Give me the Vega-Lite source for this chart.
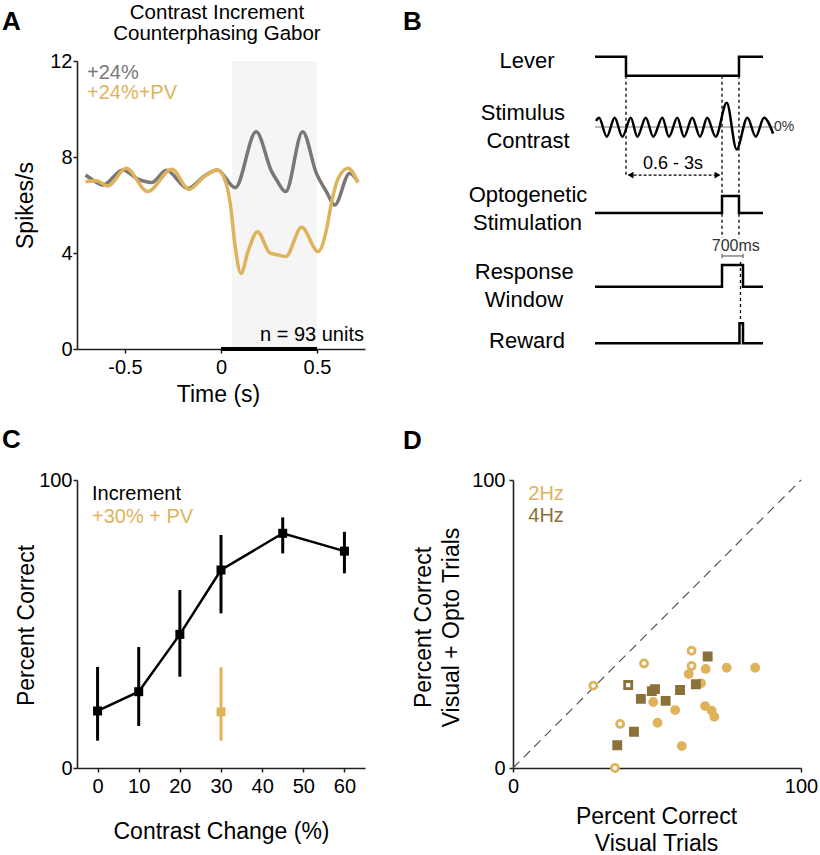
{
  "$schema": "https://vega.github.io/schema/vega-lite/v6.json",
  "background": "white",
  "padding": {"left": 2, "top": 3, "right": 0, "bottom": 0},
  "config": {
    "font": "Liberation Sans",
    "view": {"stroke": null},
    "axis": {"domainColor": "#231f20", "domainWidth": 1.6, "tickColor": "#231f20", "tickWidth": 1.5, "tickSize": 4, "labelFontSize": 20, "labelColor": "#000", "labelPadding": 4, "labelFlush": false, "titleFontSize": 23, "titleFontWeight": "normal", "titleColor": "#000", "titleBaseline": "middle", "grid": false}
  },
  "resolve": {"scale": {"color": "independent", "fill": "independent", "stroke": "independent", "shape": "independent"}},
  "datasets": {
    "a_lines": [
      {"cond": "+24%", "t": -0.705, "rate": 7.25},
      {"cond": "+24%", "t": -0.66, "rate": 7.0},
      {"cond": "+24%", "t": -0.615, "rate": 6.83},
      {"cond": "+24%", "t": -0.511, "rate": 7.46},
      {"cond": "+24%", "t": -0.435, "rate": 7.09},
      {"cond": "+24%", "t": -0.36, "rate": 6.94},
      {"cond": "+24%", "t": -0.285, "rate": 7.45},
      {"cond": "+24%", "t": -0.172, "rate": 6.69},
      {"cond": "+24%", "t": -0.085, "rate": 7.22},
      {"cond": "+24%", "t": -0.019, "rate": 7.46},
      {"cond": "+24%", "t": 0.074, "rate": 6.72},
      {"cond": "+24%", "t": 0.183, "rate": 9.05},
      {"cond": "+24%", "t": 0.264, "rate": 7.39},
      {"cond": "+24%", "t": 0.29, "rate": 7.04},
      {"cond": "+24%", "t": 0.337, "rate": 6.56},
      {"cond": "+24%", "t": 0.425, "rate": 9.05},
      {"cond": "+24%", "t": 0.497, "rate": 7.32},
      {"cond": "+24%", "t": 0.549, "rate": 6.56},
      {"cond": "+24%", "t": 0.592, "rate": 6.0},
      {"cond": "+24%", "t": 0.67, "rate": 7.32},
      {"cond": "+24%", "t": 0.713, "rate": 6.97},
      {"cond": "+24%+PV", "t": -0.705, "rate": 6.97},
      {"cond": "+24%+PV", "t": -0.649, "rate": 7.01},
      {"cond": "+24%+PV", "t": -0.589, "rate": 6.79},
      {"cond": "+24%+PV", "t": -0.494, "rate": 7.53},
      {"cond": "+24%+PV", "t": -0.382, "rate": 6.56},
      {"cond": "+24%+PV", "t": -0.256, "rate": 7.49},
      {"cond": "+24%+PV", "t": -0.166, "rate": 6.65},
      {"cond": "+24%+PV", "t": -0.088, "rate": 7.18},
      {"cond": "+24%+PV", "t": -0.019, "rate": 7.46},
      {"cond": "+24%+PV", "t": 0.014, "rate": 7.18},
      {"cond": "+24%+PV", "t": 0.048, "rate": 6.07},
      {"cond": "+24%+PV", "t": 0.074, "rate": 4.26},
      {"cond": "+24%+PV", "t": 0.104, "rate": 3.15},
      {"cond": "+24%+PV", "t": 0.143, "rate": 4.12},
      {"cond": "+24%+PV", "t": 0.19, "rate": 4.89},
      {"cond": "+24%+PV", "t": 0.256, "rate": 3.99},
      {"cond": "+24%+PV", "t": 0.299, "rate": 3.92},
      {"cond": "+24%+PV", "t": 0.337, "rate": 3.85},
      {"cond": "+24%+PV", "t": 0.42, "rate": 5.07},
      {"cond": "+24%+PV", "t": 0.506, "rate": 4.06},
      {"cond": "+24%+PV", "t": 0.549, "rate": 4.96},
      {"cond": "+24%+PV", "t": 0.575, "rate": 6.07},
      {"cond": "+24%+PV", "t": 0.61, "rate": 7.1},
      {"cond": "+24%+PV", "t": 0.662, "rate": 7.53},
      {"cond": "+24%+PV", "t": 0.713, "rate": 6.93}
    ],
    "b_traces": [
      {"trace": "Lever", "ord": 1, "x": 0, "y": 101.5},
      {"trace": "Lever", "ord": 2, "x": 18.45, "y": 101.5},
      {"trace": "Lever", "ord": 3, "x": 18.45, "y": 94.9},
      {"trace": "Lever", "ord": 4, "x": 85.7, "y": 94.9},
      {"trace": "Lever", "ord": 5, "x": 85.7, "y": 101.5},
      {"trace": "Lever", "ord": 6, "x": 100, "y": 101.5},
      {"trace": "Opto", "ord": 1, "x": 0, "y": 47.2},
      {"trace": "Opto", "ord": 2, "x": 75.6, "y": 47.2},
      {"trace": "Opto", "ord": 3, "x": 75.6, "y": 53.1},
      {"trace": "Opto", "ord": 4, "x": 85.7, "y": 53.1},
      {"trace": "Opto", "ord": 5, "x": 85.7, "y": 47.2},
      {"trace": "Opto", "ord": 6, "x": 100, "y": 47.2},
      {"trace": "Response", "ord": 1, "x": 0, "y": 21.6},
      {"trace": "Response", "ord": 2, "x": 75.6, "y": 21.6},
      {"trace": "Response", "ord": 3, "x": 75.6, "y": 29.2},
      {"trace": "Response", "ord": 4, "x": 88.1, "y": 29.2},
      {"trace": "Response", "ord": 5, "x": 88.1, "y": 21.6},
      {"trace": "Response", "ord": 6, "x": 100, "y": 21.6},
      {"trace": "Reward", "ord": 1, "x": 0, "y": 2.0},
      {"trace": "Reward", "ord": 2, "x": 86.0, "y": 2.0},
      {"trace": "Reward", "ord": 3, "x": 86.0, "y": 8.9},
      {"trace": "Reward", "ord": 4, "x": 88.1, "y": 8.9},
      {"trace": "Reward", "ord": 5, "x": 88.1, "y": 2.0},
      {"trace": "Reward", "ord": 6, "x": 100, "y": 2.0}
    ],
    "b_wave": [
      {"x": 0.6, "y": 79.2},
      {"x": 2.4, "y": 80.3},
      {"x": 7.0, "y": 73.7},
      {"x": 11.7, "y": 80.3},
      {"x": 16.3, "y": 73.7},
      {"x": 21.3, "y": 80.3},
      {"x": 25.2, "y": 73.7},
      {"x": 30.2, "y": 80.3},
      {"x": 34.7, "y": 73.7},
      {"x": 40.1, "y": 80.3},
      {"x": 44.0, "y": 73.7},
      {"x": 49.0, "y": 80.3},
      {"x": 53.0, "y": 73.7},
      {"x": 57.9, "y": 80.3},
      {"x": 62.5, "y": 73.7},
      {"x": 66.8, "y": 80.3},
      {"x": 71.8, "y": 73.7},
      {"x": 78.4, "y": 85.5},
      {"x": 84.3, "y": 69.3},
      {"x": 90.7, "y": 80.3},
      {"x": 95.7, "y": 73.7},
      {"x": 100.6, "y": 80.3},
      {"x": 106.0, "y": 74.8}
    ],
    "b_dotted": [
      {"x": 18.45, "y": 94.9, "y2": 60.4},
      {"x": 75.6, "y": 94.9, "y2": 38.5},
      {"x": 85.7, "y": 94.9, "y2": 38.5},
      {"x": 86.6, "y": 30.2, "y2": 9.0}
    ],
    "b_labels": [
      {"label": "Lever", "x": -40.5, "y": 97.5},
      {"label": "Stimulus", "x": -42.9, "y": 79.5},
      {"label": "Contrast", "x": -39.9, "y": 69.7},
      {"label": "Optogenetic", "x": -39.9, "y": 51.1},
      {"label": "Stimulation", "x": -40.2, "y": 41.3},
      {"label": "Response", "x": -42.1, "y": 24.2},
      {"label": "Window", "x": -42.3, "y": 14.7},
      {"label": "Reward", "x": -40.5, "y": 0.45}
    ],
    "c_data": [
      {"series": "Increment", "contrast": 0, "pc": 19.8, "lo": 9.5, "hi": 35.1},
      {"series": "Increment", "contrast": 10, "pc": 26.5, "lo": 14.6, "hi": 42.0},
      {"series": "Increment", "contrast": 20, "pc": 46.4, "lo": 31.7, "hi": 61.8},
      {"series": "Increment", "contrast": 30, "pc": 68.75, "lo": 53.7, "hi": 80.9},
      {"series": "Increment", "contrast": 45, "pc": 81.5, "lo": 74.5, "hi": 87.0},
      {"series": "Increment", "contrast": 60, "pc": 75.3, "lo": 67.6, "hi": 82.0},
      {"series": "+30% + PV", "contrast": 30, "pc": 19.5, "lo": 9.5, "hi": 35.0}
    ],
    "d_points": [
      {"freq": "2Hz", "open": true, "visual": 27.9, "opto": 28.6},
      {"freq": "2Hz", "open": true, "visual": 45.5, "opto": 36.3},
      {"freq": "2Hz", "open": true, "visual": 62.0, "opto": 40.7},
      {"freq": "2Hz", "open": true, "visual": 62.0, "opto": 35.4},
      {"freq": "2Hz", "open": true, "visual": 37.2, "opto": 15.3},
      {"freq": "2Hz", "open": true, "visual": 35.4, "opto": 0.0},
      {"freq": "2Hz", "open": false, "visual": 66.9, "opto": 34.4},
      {"freq": "2Hz", "open": false, "visual": 74.2, "opto": 34.8},
      {"freq": "2Hz", "open": false, "visual": 84.1, "opto": 34.8},
      {"freq": "2Hz", "open": false, "visual": 61.0, "opto": 32.6},
      {"freq": "2Hz", "open": false, "visual": 65.3, "opto": 29.4},
      {"freq": "2Hz", "open": false, "visual": 48.7, "opto": 22.9},
      {"freq": "2Hz", "open": false, "visual": 56.3, "opto": 20.1},
      {"freq": "2Hz", "open": false, "visual": 66.7, "opto": 21.5},
      {"freq": "2Hz", "open": false, "visual": 69.0, "opto": 19.9},
      {"freq": "2Hz", "open": false, "visual": 69.9, "opto": 17.8},
      {"freq": "2Hz", "open": false, "visual": 50.2, "opto": 15.7},
      {"freq": "2Hz", "open": false, "visual": 58.6, "opto": 7.6},
      {"freq": "4Hz", "open": true, "visual": 40.0, "opto": 28.8},
      {"freq": "4Hz", "open": false, "visual": 67.6, "opto": 38.7},
      {"freq": "4Hz", "open": false, "visual": 63.5, "opto": 29.1},
      {"freq": "4Hz", "open": false, "visual": 58.0, "opto": 27.1},
      {"freq": "4Hz", "open": false, "visual": 49.3, "opto": 27.4},
      {"freq": "4Hz", "open": false, "visual": 48.2, "opto": 26.7},
      {"freq": "4Hz", "open": false, "visual": 44.4, "opto": 24.0},
      {"freq": "4Hz", "open": false, "visual": 53.0, "opto": 23.3},
      {"freq": "4Hz", "open": false, "visual": 42.0, "opto": 12.6},
      {"freq": "4Hz", "open": false, "visual": 36.2, "opto": 7.9}
    ]
  },
  "columns": 2,
  "spacing": {"row": 131, "column": 148},
  "bounds": "flush",
  "align": "all",
  "concat": [
    {
      "width": 288, "height": 288,
      "layer": [
        {"data": {"values": [{}]}, "mark": {"type": "rect", "color": "#f5f5f5"},
         "encoding": {"x": {"datum": 0.057, "type": "quantitative"}, "x2": {"datum": 0.5}, "y": {"datum": 0, "type": "quantitative"}, "y2": {"datum": 12}}},
        {"data": {"name": "a_lines"}, "mark": {"type": "line", "interpolate": "monotone", "strokeWidth": 3.5},
         "encoding": {
           "x": {"field": "t", "type": "quantitative", "scale": {"domain": [-0.75, 0.75], "nice": false, "zero": false},
                 "axis": {"values": [-0.5, 0, 0.5], "title": "Time (s)", "titleX": 141, "titleY": 45, "labelExpr": "toString(datum.value)"}},
           "y": {"field": "rate", "type": "quantitative", "scale": {"domain": [0, 12], "nice": false, "zero": false},
                 "axis": {"values": [0, 4, 8, 12], "title": "Spikes/s", "titleX": -52, "titleY": 144, "labelPadding": 1}},
           "color": {"field": "cond", "type": "nominal", "scale": {"domain": ["+24%", "+24%+PV"], "range": ["#7b7678", "#dfb35b"]}, "legend": null}
         }},
        {"data": {"values": [{}]}, "mark": {"type": "rule", "strokeWidth": 4, "color": "black"},
         "encoding": {"x": {"datum": 0, "type": "quantitative"}, "x2": {"datum": 0.5}, "y": {"datum": 0, "type": "quantitative"}}},
        {"data": {"values": [{}]}, "mark": {"type": "text", "text": ["Contrast Increment", "Counterphasing Gabor"], "fontSize": 20.5, "lineHeight": 21, "align": "center", "baseline": "alphabetic", "dy": -42},
         "encoding": {"x": {"datum": -0.021, "type": "quantitative"}, "y": {"datum": 12, "type": "quantitative"}}},
        {"data": {"values": [{}]}, "mark": {"type": "text", "text": "+24%", "fontSize": 20, "align": "left", "baseline": "alphabetic", "color": "#7b7678"},
         "encoding": {"x": {"datum": -0.698, "type": "quantitative"}, "y": {"datum": 11.25, "type": "quantitative"}}},
        {"data": {"values": [{}]}, "mark": {"type": "text", "text": "+24%+PV", "fontSize": 20, "align": "left", "baseline": "alphabetic", "color": "#dfb35b"},
         "encoding": {"x": {"datum": -0.698, "type": "quantitative"}, "y": {"datum": 10.42, "type": "quantitative"}}},
        {"data": {"values": [{}]}, "mark": {"type": "text", "text": "n = 93 units", "fontSize": 20, "align": "right", "baseline": "alphabetic", "dx": -1, "dy": -8},
         "encoding": {"x": {"datum": 0.75, "type": "quantitative"}, "y": {"datum": 0, "type": "quantitative"}}},
        {"data": {"values": [{}]}, "mark": {"type": "text", "text": "A", "fontSize": 26, "fontWeight": "bold", "align": "left", "baseline": "alphabetic", "dx": -75, "dy": -31},
         "encoding": {"x": {"datum": -0.75, "type": "quantitative"}, "y": {"datum": 12, "type": "quantitative"}}}
      ]
    },
    {
      "width": 288, "height": 288,
      "layer": [
        {"data": {"values": [{}]}, "mark": {"type": "rule", "color": "#777777", "strokeWidth": 1},
         "encoding": {"x": {"datum": 0, "type": "quantitative", "scale": {"domain": [-48.81, 122.62], "nice": false, "zero": false}, "axis": null},
                      "x2": {"datum": 107},
                      "y": {"datum": 77.08, "type": "quantitative", "scale": {"domain": [0, 100], "nice": false, "zero": false}, "axis": null}}},
        {"data": {"name": "b_traces"}, "mark": {"type": "line", "color": "black", "strokeWidth": 2.5, "strokeJoin": "miter"},
         "encoding": {"x": {"field": "x", "type": "quantitative", "axis": null}, "y": {"field": "y", "type": "quantitative", "axis": null},
                      "detail": {"field": "trace"}, "order": {"field": "ord"}}},
        {"data": {"name": "b_wave"}, "mark": {"type": "line", "color": "black", "strokeWidth": 2.5, "interpolate": "monotone"},
         "encoding": {"x": {"field": "x", "type": "quantitative", "axis": null}, "y": {"field": "y", "type": "quantitative", "axis": null}}},
        {"data": {"name": "b_dotted"}, "mark": {"type": "rule", "color": "black", "strokeWidth": 1.3, "strokeDash": [3, 3]},
         "encoding": {"x": {"field": "x", "type": "quantitative", "axis": null}, "y": {"field": "y", "type": "quantitative", "axis": null}, "y2": {"field": "y2"}}},
        {"data": {"values": [{}]}, "mark": {"type": "rule", "color": "black", "strokeWidth": 1.3, "strokeDash": [3, 2]},
         "encoding": {"x": {"datum": 20, "type": "quantitative", "axis": null}, "x2": {"datum": 74}, "y": {"datum": 60.4, "type": "quantitative", "axis": null}}},
        {"data": {"values": [{}]}, "mark": {"type": "point", "shape": "triangle-left", "filled": true, "color": "black", "size": 45, "opacity": 1},
         "encoding": {"x": {"datum": 21.2, "type": "quantitative", "axis": null}, "y": {"datum": 60.4, "type": "quantitative", "axis": null}}},
        {"data": {"values": [{}]}, "mark": {"type": "point", "shape": "triangle-right", "filled": true, "color": "black", "size": 45, "opacity": 1},
         "encoding": {"x": {"datum": 72.9, "type": "quantitative", "axis": null}, "y": {"datum": 60.4, "type": "quantitative", "axis": null}}},
        {"data": {"values": [{}]}, "mark": {"type": "rule", "color": "#666666", "strokeWidth": 1.2},
         "encoding": {"x": {"datum": 75.6, "type": "quantitative", "axis": null}, "x2": {"datum": 88.1}, "y": {"datum": 32.3, "type": "quantitative", "axis": null}}},
        {"data": {"values": [{}]}, "mark": {"type": "rule", "color": "#666666", "strokeWidth": 1.2},
         "encoding": {"x": {"datum": 75.6, "type": "quantitative", "axis": null}, "y": {"datum": 31.5, "type": "quantitative", "axis": null}, "y2": {"datum": 33.1}}},
        {"data": {"values": [{}]}, "mark": {"type": "rule", "color": "#666666", "strokeWidth": 1.2},
         "encoding": {"x": {"datum": 88.1, "type": "quantitative", "axis": null}, "y": {"datum": 31.5, "type": "quantitative", "axis": null}, "y2": {"datum": 33.1}}},
        {"data": {"name": "b_labels"}, "mark": {"type": "text", "fontSize": 22, "align": "center", "baseline": "alphabetic", "color": "black"},
         "encoding": {"x": {"field": "x", "type": "quantitative", "axis": null}, "y": {"field": "y", "type": "quantitative", "axis": null}, "text": {"field": "label"}}},
        {"data": {"values": [{}]}, "mark": {"type": "text", "text": "0.6 - 3s", "fontSize": 18, "align": "center", "baseline": "alphabetic"},
         "encoding": {"x": {"datum": 46.4, "type": "quantitative", "axis": null}, "y": {"datum": 62.5, "type": "quantitative", "axis": null}}},
        {"data": {"values": [{}]}, "mark": {"type": "text", "text": "700ms", "fontSize": 16, "align": "center", "baseline": "alphabetic", "color": "#333333"},
         "encoding": {"x": {"datum": 83.8, "type": "quantitative", "axis": null}, "y": {"datum": 34.1, "type": "quantitative", "axis": null}}},
        {"data": {"values": [{}]}, "mark": {"type": "text", "text": "0%", "fontSize": 14, "align": "left", "baseline": "middle", "color": "#333333"},
         "encoding": {"x": {"datum": 106.6, "type": "quantitative", "axis": null}, "y": {"datum": 77.1, "type": "quantitative", "axis": null}}},
        {"data": {"values": [{}]}, "mark": {"type": "text", "text": "B", "fontSize": 26, "fontWeight": "bold", "align": "left", "baseline": "alphabetic", "dx": -110, "dy": -31},
         "encoding": {"x": {"datum": -48.81, "type": "quantitative", "axis": null}, "y": {"datum": 100, "type": "quantitative", "axis": null}}}
      ]
    },
    {
      "width": 288, "height": 288,
      "layer": [
        {"data": {"name": "c_data"}, "mark": {"type": "rule", "strokeWidth": 3},
         "encoding": {
           "x": {"field": "contrast", "type": "quantitative", "scale": {"domain": [-5, 65], "nice": false, "zero": false},
                 "axis": {"values": [0, 10, 20, 30, 40, 50, 60], "title": "Contrast Change (%)", "titleX": 144, "titleY": 63}},
           "y": {"field": "lo", "type": "quantitative", "scale": {"domain": [0, 100], "nice": false, "zero": false},
                 "axis": {"values": [0, 100], "title": "Percent Correct", "titleX": -51, "titleY": 145, "labelPadding": 1}},
           "y2": {"field": "hi"},
           "color": {"field": "series", "type": "nominal", "scale": {"domain": ["Increment", "+30% + PV"], "range": ["#000000", "#dfb35b"]}, "legend": null}
         }},
        {"data": {"name": "c_data"}, "transform": [{"filter": "datum.series == 'Increment'"}],
         "mark": {"type": "line", "color": "black", "strokeWidth": 2.5},
         "encoding": {"x": {"field": "contrast", "type": "quantitative"}, "y": {"field": "pc", "type": "quantitative"}}},
        {"data": {"name": "c_data"}, "mark": {"type": "point", "shape": "square", "filled": true, "size": 81, "opacity": 1},
         "encoding": {"x": {"field": "contrast", "type": "quantitative"}, "y": {"field": "pc", "type": "quantitative"},
                      "color": {"field": "series", "type": "nominal", "legend": null}}},
        {"data": {"values": [{}]}, "mark": {"type": "text", "text": "Increment", "fontSize": 20, "align": "left", "baseline": "alphabetic", "color": "black"},
         "encoding": {"x": {"datum": -1.35, "type": "quantitative"}, "y": {"datum": 93.1, "type": "quantitative"}}},
        {"data": {"values": [{}]}, "mark": {"type": "text", "text": "+30% + PV", "fontSize": 20, "align": "left", "baseline": "alphabetic", "color": "#dfb35b"},
         "encoding": {"x": {"datum": -1.35, "type": "quantitative"}, "y": {"datum": 85.1, "type": "quantitative"}}},
        {"data": {"values": [{}]}, "mark": {"type": "text", "text": "C", "fontSize": 26, "fontWeight": "bold", "align": "left", "baseline": "alphabetic", "dx": -75, "dy": -32},
         "encoding": {"x": {"datum": -5, "type": "quantitative"}, "y": {"datum": 100, "type": "quantitative"}}}
      ]
    },
    {
      "width": 288, "height": 288,
      "layer": [
        {"data": {"values": [{}]}, "mark": {"type": "rule", "color": "#555555", "strokeWidth": 1.2, "strokeDash": [9, 6]},
         "encoding": {"x": {"datum": 0, "type": "quantitative"}, "y": {"datum": 0, "type": "quantitative"}, "x2": {"datum": 100}, "y2": {"datum": 100}}},
        {"data": {"name": "d_points"}, "mark": {"type": "point", "filled": true, "size": 50, "strokeWidth": 2.8, "opacity": 1},
         "encoding": {
           "x": {"field": "visual", "type": "quantitative", "scale": {"domain": [0, 100], "nice": false, "zero": false},
                 "axis": {"values": [0, 100], "title": ["Percent Correct", "Visual Trials"], "titleX": 143, "titleY": 48, "titleLineHeight": 27}},
           "y": {"field": "opto", "type": "quantitative", "scale": {"domain": [0, 100], "nice": false, "zero": false},
                 "axis": {"values": [0, 100], "title": ["Percent Correct", "Visual + Opto Trials"], "titleX": -90, "titleY": 147, "titleLineHeight": 28}},
           "shape": {"field": "freq", "type": "nominal", "scale": {"domain": ["2Hz", "4Hz"], "range": ["circle", "square"]}, "legend": null},
           "stroke": {"field": "freq", "type": "nominal", "scale": {"domain": ["2Hz", "4Hz"], "range": ["#dfb35b", "#8b7139"]}, "legend": null},
           "fill": {"condition": {"test": "datum.open", "value": "white"}, "field": "freq", "type": "nominal", "scale": {"domain": ["2Hz", "4Hz"], "range": ["#dfb35b", "#8b7139"]}, "legend": null}
         }},
        {"data": {"values": [{}]}, "mark": {"type": "text", "text": "2Hz", "fontSize": 20, "align": "left", "baseline": "alphabetic", "color": "#dfb35b"},
         "encoding": {"x": {"datum": 5.3, "type": "quantitative"}, "y": {"datum": 93.1, "type": "quantitative"}}},
        {"data": {"values": [{}]}, "mark": {"type": "text", "text": "4Hz", "fontSize": 20, "align": "left", "baseline": "alphabetic", "color": "#8b7139"},
         "encoding": {"x": {"datum": 5.3, "type": "quantitative"}, "y": {"datum": 85.5, "type": "quantitative"}}},
        {"data": {"values": [{}]}, "mark": {"type": "text", "text": "D", "fontSize": 26, "fontWeight": "bold", "align": "left", "baseline": "alphabetic", "dx": -110, "dy": -31},
         "encoding": {"x": {"datum": 0, "type": "quantitative"}, "y": {"datum": 100, "type": "quantitative"}}}
      ]
    }
  ]
}
